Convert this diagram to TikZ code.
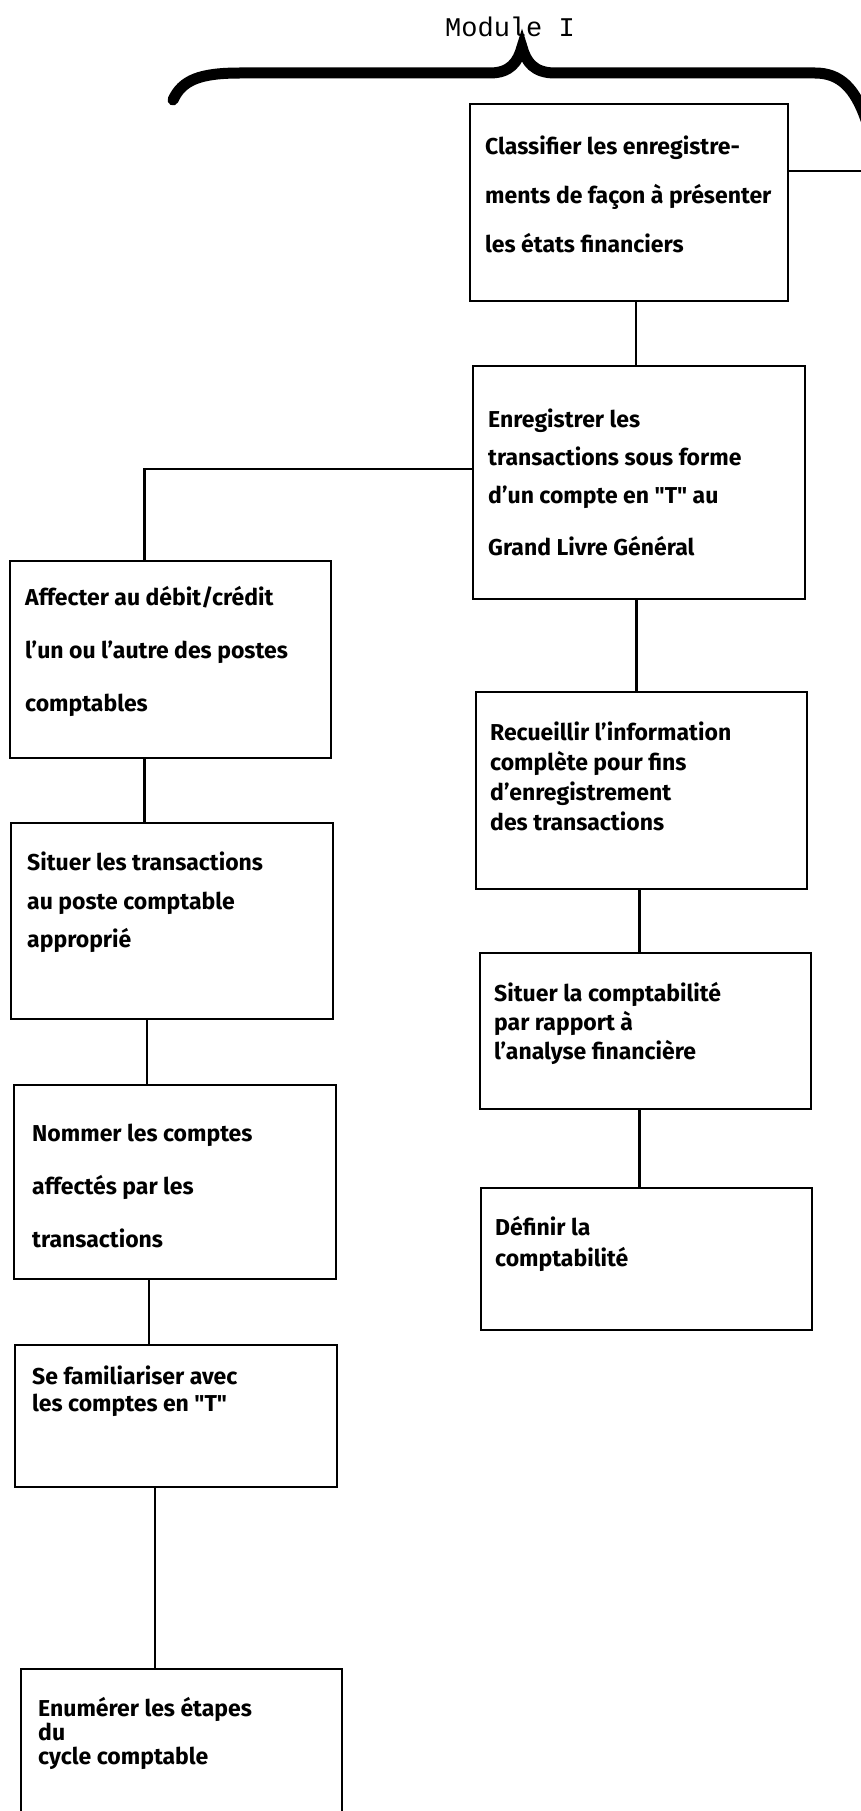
\documentclass[tikz,border=0pt]{standalone}
\usepackage{fontspec}
\setmainfont{Fira Sans}
\newfontfamily\modfont{Liberation Mono}
\usetikzlibrary{positioning,calc}

\begin{document}
\begin{tikzpicture}[x=1pt, y=-1pt,
    etape/.style={draw, line width=2.6pt, inner sep=0pt},
    texte/.style={anchor=north west, inner sep=0pt, align=left, font=\bfseries\fontsize{23}{#1}\selectfont},
    texte/.default=30,
    lien/.style={line width=2.4pt}]
    \useasboundingbox (0,0) rectangle (860,1811);

    % accolade du module
    \node[font=\modfont\fontsize{27}{27}\selectfont] (titre) at (510,27) {Module I};
    \draw[line width=11pt, line cap=round] (173,100) .. controls (182,80) and (200,73) .. (240,73) -- (490,73)
        .. controls (510,73) and (518,62) .. (522,47) .. controls (526,62) and (534,73) .. (555,73) -- (815,73)
        .. controls (840,73) and (855,88) .. (866,120);

    % colonne de droite
    \node[etape, minimum width=318, minimum height=197] (classer) at (629,202.5) {};
    \node[etape, minimum width=332, minimum height=233] (enreg) at (639,482.5) {};
    \node[etape, minimum width=331, minimum height=197] (recueil) at (641.5,790.5) {};
    \node[etape, minimum width=331, minimum height=156] (situercpt) at (645.5,1031) {};
    \node[etape, minimum width=331, minimum height=142] (definir) at (646.5,1259) {};

    % colonne de gauche
    \node[etape, minimum width=321, minimum height=197] (affecter) at (170.5,659.5) {};
    \node[etape, minimum width=322, minimum height=196] (situertr) at (172,921) {};
    \node[etape, minimum width=322, minimum height=194] (nommer) at (175,1182) {};
    \node[etape, minimum width=322, minimum height=142] (famil) at (176,1416) {};
    \node[etape, minimum width=321, minimum height=200] (enum) at (181.5,1769) {};

    % textes
    \node[texte=49] (tclasser) at (485,136) {Classifier les enregistre-\\ments de façon à présenter\\les états financiers};
    \node[texte=38] (tenreg) at (488,409) {Enregistrer les\\transactions sous forme\\d'un compte en \textquotedbl T\textquotedbl{} au\\[14pt]Grand Livre Général};
    \node[texte] (trecueil) at (490,722) {Recueillir l'information\\complète pour fins\\d'enregistrement\\des transactions};
    \node[texte=29] (tsituercpt) at (494,982) {Situer la comptabilité\\par rapport à\\l'analyse financière};
    \node[texte=31] (tdefinir) at (495,1216) {Définir la\\comptabilité};
    \node[texte=53] (taffecter) at (25,586) {Affecter au débit/crédit\\l'un ou l'autre des postes\\comptables};
    \node[texte=38.5] (tsituertr) at (27,852) {Situer les transactions\\au poste comptable\\approprié};
    \node[texte=53] (tnommer) at (32,1124) {Nommer les comptes\\affectés par les\\transactions};
    \node[texte=27] (tfamil) at (32,1366) {Se familiariser avec\\les comptes en \textquotedbl T\textquotedbl};
    \node[texte=24] (tenum) at (38,1697) {Enumérer les étapes\\du\\cycle comptable};

    % liens
    \coordinate (bord) at (862,171);
    \draw[lien] (classer.east |- bord) -- (bord);
    \draw[lien] ([xshift=-3pt]enreg.north) -- ([xshift=-3pt]enreg.north |- classer.south);
    \draw[lien] ([xshift=-5pt]recueil.north) -- ([xshift=-5pt]recueil.north |- enreg.south);
    \draw[lien] ([xshift=-2pt]recueil.south) -- ([xshift=-2pt]recueil.south |- situercpt.north);
    \draw[lien] ([xshift=-6pt]situercpt.south) -- ([xshift=-6pt]situercpt.south |- definir.north);
    \draw[lien] ([yshift=13.5pt]enreg.west) -| ([xshift=-26pt]affecter.north);
    \draw[lien] ([xshift=-26pt]affecter.south) -- ([xshift=-26pt]affecter.south |- situertr.north);
    \draw[lien] ([xshift=-25pt]situertr.south) -- ([xshift=-25pt]situertr.south |- nommer.north);
    \draw[lien] ([xshift=-26pt]nommer.south) -- ([xshift=-26pt]nommer.south |- famil.north);
    \draw[lien] ([xshift=-21pt]famil.south) -- ([xshift=-21pt]famil.south |- enum.north);
\end{tikzpicture}
\end{document}
